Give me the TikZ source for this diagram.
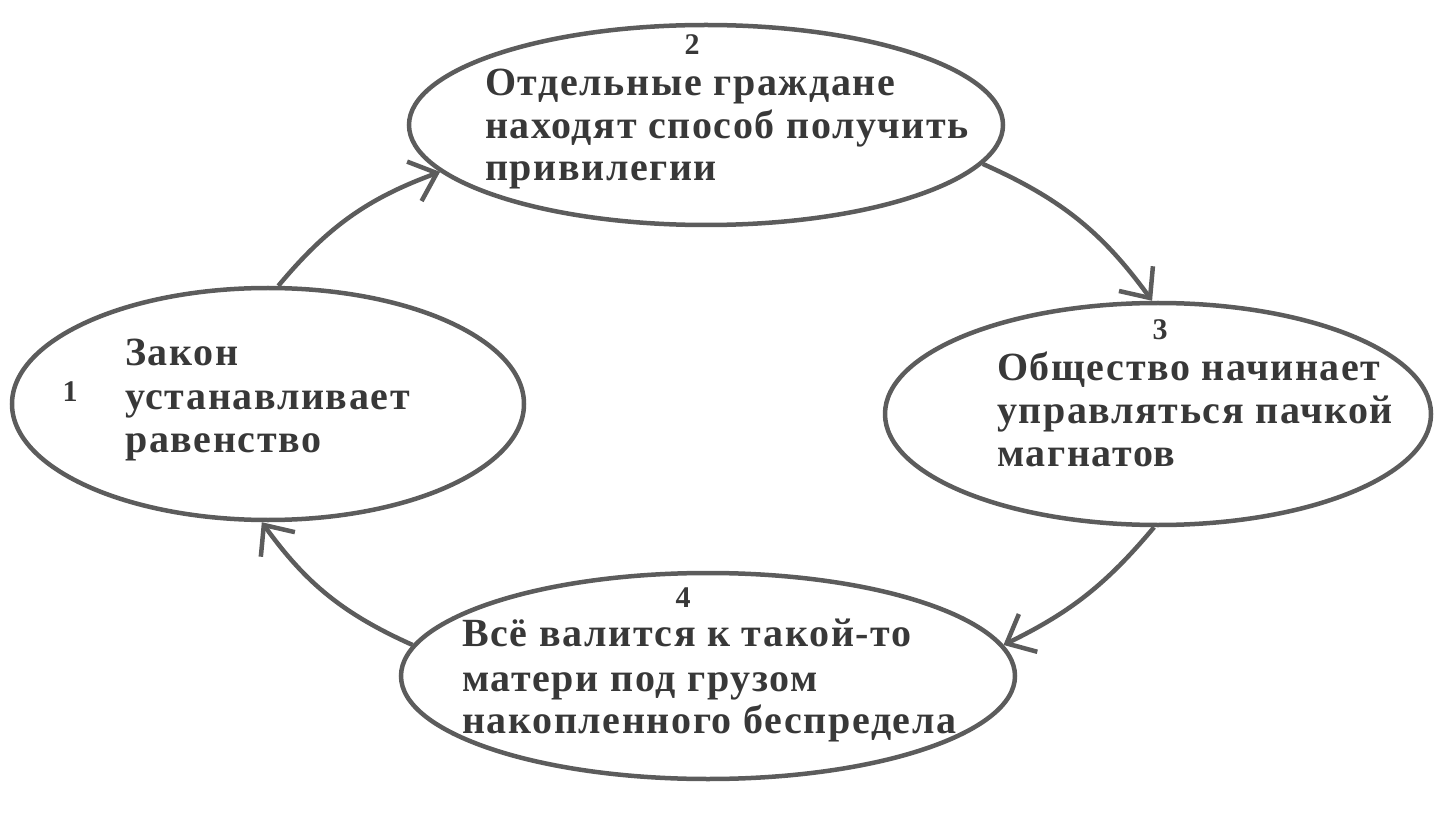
\documentclass[tikz,border=0pt]{standalone}
\usepackage{fontspec}
\setmainfont{Liberation Serif}
\usetikzlibrary{shapes.geometric,arrows.meta}
\definecolor{ln}{rgb}{0.36,0.36,0.36}
\definecolor{tx}{rgb}{0.22,0.22,0.22}
\newfontfamily\wideserif[LetterSpace=4]{Liberation Serif}
\tikzset{
  oval/.style={ellipse,draw=ln,line width=4.5pt,inner sep=0pt},
  lbl/.style={anchor=base west,inner sep=0pt,text=tx,font=\wideserif\fontsize{40}{43}\selectfont\bfseries},
  num/.style={anchor=base,inner sep=0pt,text=tx,font=\fontsize{30}{36}\selectfont\bfseries},
  conn/.style={draw=ln,line width=4.5pt,-{Straight Barb[length=24pt,width=42pt,line width=4.5pt]}}
}
\begin{document}
\begin{tikzpicture}[x=1pt,y=-1pt]
\useasboundingbox (0,0) rectangle (1449,818);
\node[oval,minimum width=512pt,minimum height=232pt] (e1) at (268,404) {};
\node[oval,minimum width=594pt,minimum height=200pt] (e2) at (706,125) {};
\node[oval,minimum width=546pt,minimum height=222pt] (e3) at (1158,414) {};
\node[oval,minimum width=614pt,minimum height=206pt] (e4) at (708,676) {};
% numbers
\node[num] (n1) at (70,401) {1};
\node[num] (n2) at (692,55) {2};
\node[num] (n3) at (1160,340) {3};
\node[num] (n4) at (683,607) {4};
% texts
\node[lbl] (t1a) at (125,366) {Закон};
\node[lbl] (t1b) at (125,409) {устанавливает};
\node[lbl] (t1c) at (125,452) {равенство};
\node[lbl] (t2a) at (485,96) {Отдельные граждане};
\node[lbl] (t2b) at (485,139) {находят способ получить};
\node[lbl] (t2c) at (485,181) {привилегии};
\node[lbl] (t3a) at (997,381) {Общество начинает};
\node[lbl] (t3b) at (997,423) {управляться пачкой};
\node[lbl] (t3c) at (997,466) {магнатов};
\node[lbl] (t4a) at (462,646) {Всё валится к такой-то};
\node[lbl] (t4b) at (462,691) {матери под грузом};
\node[lbl] (t4c) at (462,733) {накопленного беспредела};
% connectors
\draw[conn] (e1.85) to[bend left=15] (e2.190);
\draw[conn] (e2.-8) to[bend left=15] (e3.93);
\draw[conn] (e3.268) to[bend left=12] (e4.6);
\draw[conn] (e4.174) to[bend left=15] (e1.267);
\end{tikzpicture}
\end{document}
